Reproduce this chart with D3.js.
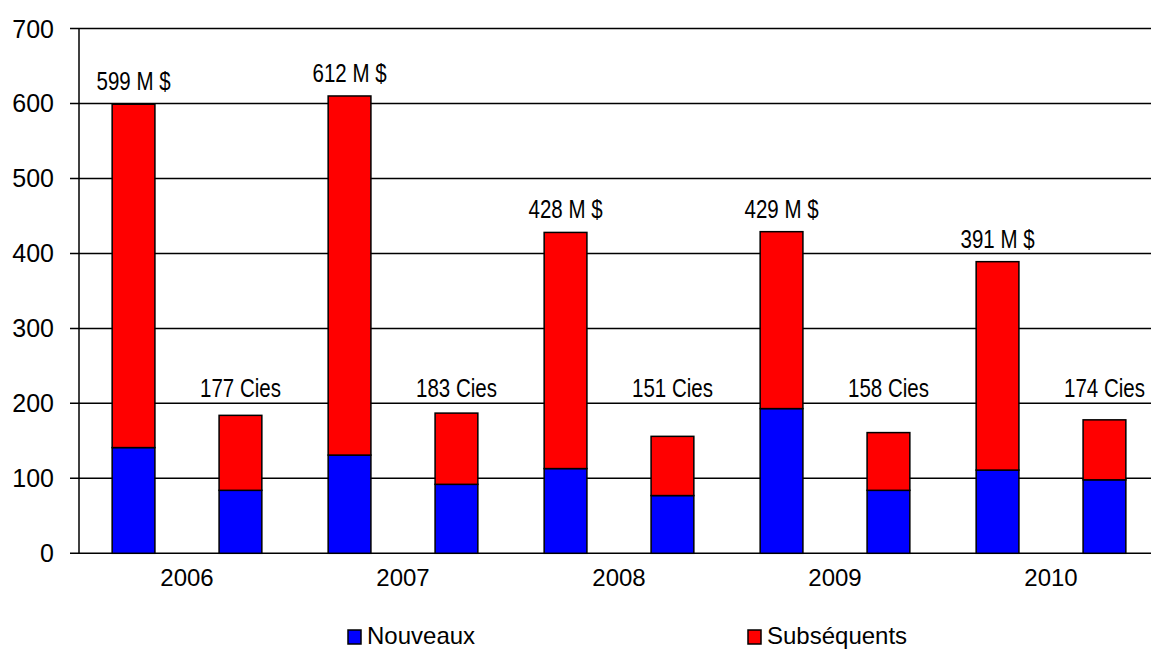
<!DOCTYPE html>
<html>
<head>
<meta charset="utf-8">
<script src="https://cdn.jsdelivr.net/npm/d3@7"></script>
<style>
  html, body { margin: 0; padding: 0; background: #fff; overflow: hidden; }
  svg text { font-family: "Liberation Sans", Arial, sans-serif; fill: #000; }
</style>
</head>
<body>
<svg id="chart" width="1151" height="650"></svg>
<script>
// ── Data ─────────────────────────────────────────────────────────────────────

const years = ['2006', '2007', '2008', '2009', '2010'];
const kinds = ['dollars', 'cies'];

// Montants investis (M $)
const dollarsNouveaux    = [141, 131, 113, 193, 111];
const dollarsSubsequents = [458, 479, 315, 236, 278];
// Nombre de compagnies
const ciesNouveaux       = [84, 92, 77, 84, 98];
const ciesSubsequents    = [100, 95, 79, 77, 80];

// Labels printed above the bars
const dollarLabels = [599, 612, 428, 429, 391];
const ciesLabels   = [177, 183, 151, 158, 174];

const yTicks = [0, 100, 200, 300, 400, 500, 600, 700];

const seriesNames  = ['Nouveaux', 'Subséquents'];
const seriesColors = ['#0000ff', '#ff0000'];

// ── Layout ───────────────────────────────────────────────────────────────────

const svg = d3.select('#chart');
const plotLeft = 79, plotRight = 1159, plotTop = 28.5, plotBottom = 553.3;

const x = d3.scaleBand().domain(years).range([plotLeft, plotRight]);
const xi = d3.scaleBand().domain(kinds).range([0, x.bandwidth()])
  .paddingInner(0.6).paddingOuter(0.31);
const y = d3.scaleLinear().domain([0, 700]).range([plotBottom, plotTop]);

// Gridlines + left ticks
svg.append('g')
  .selectAll('line')
  .data(yTicks)
  .enter().append('line')
  .attr('x1', plotLeft - 9).attr('x2', plotRight)
  .attr('y1', d => y(d)).attr('y2', d => y(d))
  .attr('stroke', '#000').attr('stroke-width', 1.5);

svg.append('line')
  .attr('x1', plotLeft).attr('x2', plotLeft)
  .attr('y1', plotTop).attr('y2', plotBottom)
  .attr('stroke', '#000').attr('stroke-width', 1.5);

svg.append('g')
  .selectAll('text')
  .data(yTicks)
  .enter().append('text')
  .attr('x', 54).attr('y', d => y(d) + 9)
  .attr('text-anchor', 'end')
  .attr('font-size', 25)
  .text(d => d);

// ── Bars ─────────────────────────────────────────────────────────────────────

const rows = years.map((yr, i) => ([
  { year: yr, kind: 'dollars', vals: [dollarsNouveaux[i], dollarsSubsequents[i]] },
  { year: yr, kind: 'cies',    vals: [ciesNouveaux[i],    ciesSubsequents[i]] },
])).flat();

const bars = svg.append('g');
rows.forEach(r => {
  let base = 0;
  r.vals.forEach((v, s) => {
    bars.append('rect')
      .attr('x', x(r.year) + xi(r.kind))
      .attr('width', xi.bandwidth())
      .attr('y', y(base + v))
      .attr('height', y(base) - y(base + v))
      .attr('fill', seriesColors[s])
      .attr('stroke', '#000')
      .attr('stroke-width', 1.5);
    base += v;
  });
});

// ── Value labels (slightly narrow, like the source) ──────────────────────────

function label(g, cx, by, str) {
  g.append('text')
    .attr('transform', `translate(${cx},${by}) scale(0.82,1)`)
    .attr('text-anchor', 'middle')
    .attr('font-size', 25)
    .text(str);
}

const labels = svg.append('g');
const ciesMax = d3.max(ciesNouveaux.map((v, i) => v + ciesSubsequents[i]));
years.forEach((yr, i) => {
  const tot = dollarsNouveaux[i] + dollarsSubsequents[i];
  label(labels, x(yr) + xi('dollars') + xi.bandwidth() / 2, y(tot) - 14, `${dollarLabels[i]} M $`);
  label(labels, x(yr) + xi('cies') + xi.bandwidth() / 2, y(ciesMax) - 16, `${ciesLabels[i]} Cies`);
});

// Year labels
svg.append('g')
  .selectAll('text')
  .data(years)
  .enter().append('text')
  .attr('x', d => x(d) + x.bandwidth() / 2)
  .attr('y', 586)
  .attr('text-anchor', 'middle')
  .attr('font-size', 24)
  .text(d => d);

// ── Legend ───────────────────────────────────────────────────────────────────

const legX = [348, 748];
const leg = svg.append('g');
seriesNames.forEach((name, i) => {
  leg.append('rect')
    .attr('x', legX[i]).attr('y', 630)
    .attr('width', 13).attr('height', 14)
    .attr('fill', seriesColors[i])
    .attr('stroke', '#000').attr('stroke-width', 1.5);
  leg.append('text')
    .attr('x', legX[i] + 19).attr('y', 644)
    .attr('font-size', 24)
    .text(name);
});
</script>
</body>
</html>
